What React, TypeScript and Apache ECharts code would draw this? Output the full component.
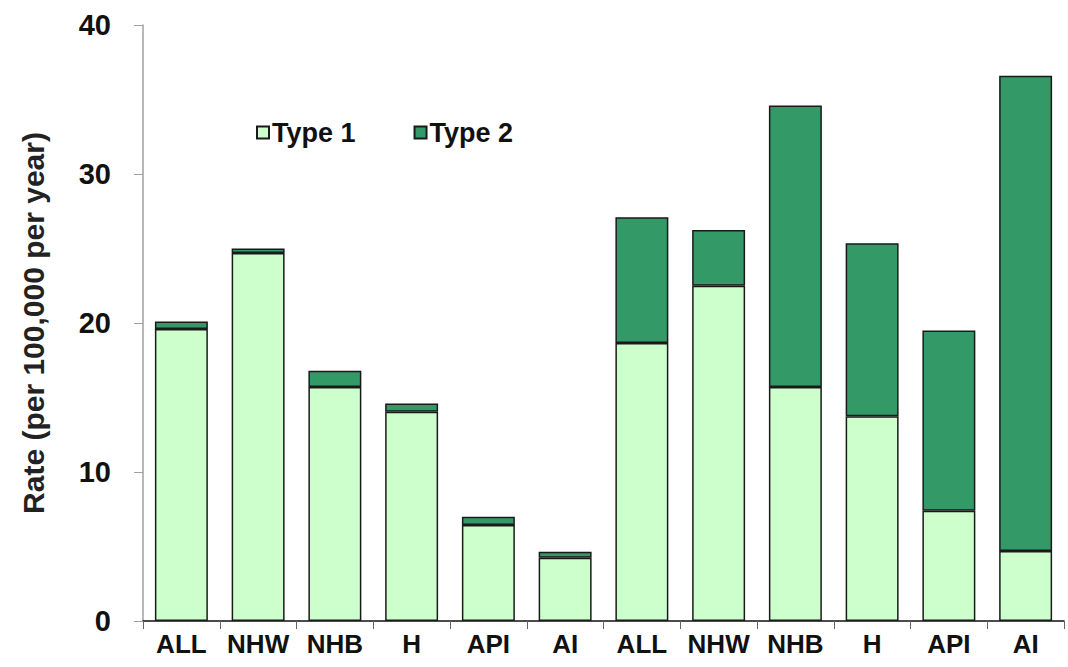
import React, { useEffect, useRef } from "react";
import * as echarts from "echarts";

const categories = ["ALL", "NHW", "NHB", "H", "API", "AI", "ALL", "NHW", "NHB", "H", "API", "AI"];
const type1 = [19.6, 24.7, 15.7, 14.05, 6.45, 4.25, 18.65, 22.5, 15.7, 13.75, 7.4, 4.7];
const type2 = [0.5, 0.3, 1.1, 0.55, 0.55, 0.4, 8.45, 3.75, 18.9, 11.6, 12.1, 31.9];
const yTicks = { min: 0, max: 40, interval: 10 };
const yTitle = "Rate (per 100,000 per year)";

const FONT = "'Liberation Sans', Arial, sans-serif";

export default function App() {
  const ref = useRef<HTMLDivElement>(null);
  useEffect(() => {
    document.body.style.margin = "0";
    const chart = echarts.init(ref.current!, null, { renderer: "svg" });
    chart.setOption({
      animation: false,
      backgroundColor: "#ffffff",
      legend: {
        left: 251,
        top: 114,
        icon: "rect",
        itemWidth: 12,
        itemHeight: 12,
        itemGap: 58,
        textStyle: { fontFamily: FONT, fontWeight: "bold", fontSize: 27, color: "#111", padding: [0, 0, 0, -2] },
        data: ["Type 1", "Type 2"],
      },
      grid: { left: 143, right: 4, top: 25, bottom: 46, containLabel: false },
      xAxis: {
        type: "category",
        data: categories,
        axisLine: { lineStyle: { color: "#111", width: 1.5 } },
        axisTick: { show: true, length: 8, lineStyle: { color: "#666" }, interval: 0 },
        axisLabel: { interval: 0, margin: 10, fontFamily: FONT, fontWeight: "bold", fontSize: 26, color: "#111" },
      },
      yAxis: {
        type: "value",
        min: yTicks.min,
        max: yTicks.max,
        interval: yTicks.interval,
        name: yTitle,
        nameLocation: "middle",
        nameGap: 95,
        nameTextStyle: { fontFamily: FONT, fontWeight: "bold", fontSize: 30, color: "#222" },
        axisLine: { show: true, lineStyle: { color: "#a0a0a0", width: 1.5 } },
        axisTick: { show: true, length: 9, lineStyle: { color: "#a0a0a0" } },
        splitLine: { show: false },
        axisLabel: { margin: 32, fontFamily: FONT, fontWeight: "bold", fontSize: 29, color: "#111" },
      },
      series: [
        {
          name: "Type 1",
          type: "bar",
          stack: "total",
          data: type1,
          barWidth: "69%",
          itemStyle: { color: "#ccffcc", borderColor: "#1a1a1a", borderWidth: 1.5 },
        },
        {
          name: "Type 2",
          type: "bar",
          stack: "total",
          data: type2,
          barWidth: "69%",
          itemStyle: { color: "#339966", borderColor: "#1a1a1a", borderWidth: 1.5 },
        },
      ],
    });
    return () => chart.dispose();
  }, []);
  return <div ref={ref} style={{ width: 1068, height: 667 }} />;
}
